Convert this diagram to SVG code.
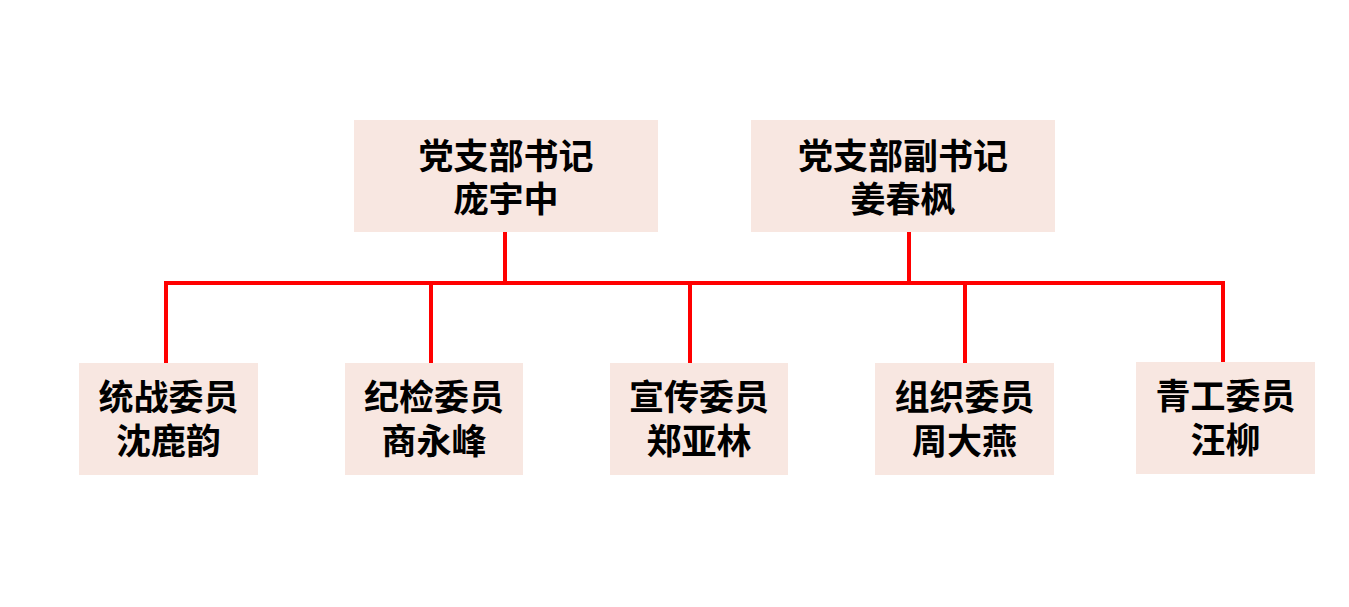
<svg xmlns="http://www.w3.org/2000/svg" width="1349" height="607" viewBox="0 0 1349 607">
<style>
.box{fill:#F8E7E1}
.t{font-family:"Noto Sans CJK SC","Noto Sans CJK TC",sans-serif;font-weight:bold;font-size:35px;fill:#000;text-anchor:middle}
.c{stroke:#FF0000;stroke-width:4;fill:none}
</style>
<rect width="1349" height="607" fill="#FFFFFF"/>
<g id="connectors">
<line class="c" x1="505" y1="232" x2="505" y2="283"/>
<line class="c" x1="909" y1="232" x2="909" y2="283"/>
<polyline class="c" points="166,363 166,283 1223,283 1223,362"/>
<line class="c" x1="431" y1="283" x2="431" y2="363"/>
<line class="c" x1="690" y1="283" x2="690" y2="363"/>
<line class="c" x1="965" y1="283" x2="965" y2="363"/>
</g>
<g id="node-secretary">
<rect class="box" x="354" y="120" width="304" height="112"/>
<text class="t" x="506" y="169">党支部书记</text>
<text class="t" x="506" y="212">庞宇中</text>
</g>
<g id="node-deputy">
<rect class="box" x="751" y="120" width="304" height="112"/>
<text class="t" x="903" y="169">党支部副书记</text>
<text class="t" x="903" y="212">姜春枫</text>
</g>
<g id="node-tongzhan">
<rect class="box" x="79" y="363" width="179" height="112"/>
<text class="t" x="168.5" y="410">统战委员</text>
<text class="t" x="168.5" y="454">沈鹿韵</text>
</g>
<g id="node-jijian">
<rect class="box" x="345" y="363" width="178" height="112"/>
<text class="t" x="434" y="410">纪检委员</text>
<text class="t" x="434" y="454">商永峰</text>
</g>
<g id="node-xuanchuan">
<rect class="box" x="610" y="363" width="178" height="112"/>
<text class="t" x="699" y="410">宣传委员</text>
<text class="t" x="699" y="454">郑亚林</text>
</g>
<g id="node-zuzhi">
<rect class="box" x="875" y="363" width="179" height="112"/>
<text class="t" x="964.5" y="410">组织委员</text>
<text class="t" x="964.5" y="454">周大燕</text>
</g>
<g id="node-qinggong">
<rect class="box" x="1136" y="362" width="179" height="112"/>
<text class="t" x="1225.5" y="409">青工委员</text>
<text class="t" x="1225.5" y="453">汪柳</text>
</g>
</svg>
